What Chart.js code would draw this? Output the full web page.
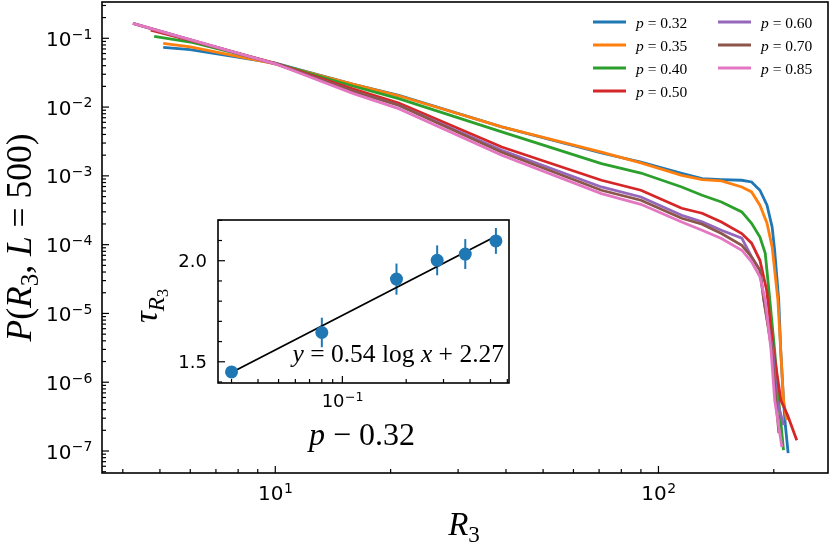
<!DOCTYPE html>
<html>
<head>
<meta charset="utf-8">
<title>P(R3, L=500)</title>
<script src="https://cdn.jsdelivr.net/npm/chart.js@4.4.1/dist/chart.umd.min.js"></script>
<style>
  body { margin: 0; background: #fff; }
  #wrap { position: relative; width: 830px; height: 549px; }
  #mainChart { position: absolute; left: 0; top: 0; }
  #insetChart { position: absolute; left: 140px; top: 210px; }
</style>
</head>
<body>
<div id="wrap">
  <canvas id="mainChart" width="830" height="549"></canvas>
  <canvas id="insetChart" width="380" height="250"></canvas>
</div>

<script>
  // p values and tab10 colours
  const pLabels = ['0.32', '0.35', '0.40', '0.50', '0.60', '0.70', '0.85'];
  const colors = ['#1f77b4', '#ff7f0e', '#2ca02c', '#d62728', '#9467bd', '#8c564b', '#e377c2'];

  // R3 and P(R3, L=500), one pair per p
  const r3_032 = [5.1, 6, 10, 16, 21, 39, 71, 90, 115, 130, 146, 165, 175, 184, 192, 198, 201, 206, 208.5, 212, 214, 218];
  const pr_032 = [0.074, 0.0686, 0.0434, 0.0214, 0.01485, 0.00514, 0.00215, 0.00159, 0.00109, 0.000914, 0.000883, 0.000863, 0.000815, 0.000618, 0.000374, 0.000181, 8.3e-5, 1.56e-5, 2.92e-6, 5.47e-7, 2.62e-7, 9.3e-8];

  const r3_035 = [5.1, 6, 10, 16, 21, 39, 71, 90, 115, 130, 146, 165, 175, 184, 192, 198, 205, 208.5, 212, 216];
  const pr_035 = [0.0846, 0.0748, 0.0426, 0.0214, 0.0146, 0.00514, 0.00222, 0.00154, 0.00102, 0.000883, 0.000843, 0.00069, 0.000584, 0.000374, 0.000205, 9.27e-5, 1.56e-5, 2.92e-6, 5.47e-7, 2.8e-7];

  const r3_040 = [4.83, 6, 10, 16, 21, 39, 71, 90, 115, 130, 146, 165, 175, 184, 190, 195, 201, 206, 212];
  const pr_040 = [0.107, 0.0883, 0.0434, 0.0201, 0.0133, 0.00435, 0.00151, 0.0011, 0.00069, 0.000523, 0.000418, 0.000299, 0.000205, 0.000129, 7.5e-5, 1.7e-5, 2.92e-6, 5.47e-7, 1.03e-7];

  const r3_050 = [4.73, 6, 10, 16, 21, 39, 71, 90, 115, 130, 146, 165, 175, 184, 191.6, 199.6, 208.7, 217.3, 229.6];
  const pr_050 = [0.131, 0.0935, 0.0434, 0.01832, 0.01148, 0.00263, 0.000863, 0.000618, 0.000338, 0.000286, 0.000214, 0.000145, 0.000105, 5.93e-5, 2.17e-5, 2.92e-6, 5.47e-7, 3.31e-7, 1.43e-7];

  const r3_060 = [4.25, 6, 10, 16, 21, 39, 71, 90, 115, 130, 146, 165, 175, 184, 188.4, 198.5, 203.7, 212.3];
  const pr_060 = [0.165, 0.095, 0.0426, 0.017, 0.01062, 0.002355, 0.00069, 0.000493, 0.000267, 0.000214, 0.000162, 0.000124, 6.62e-5, 4.25e-5, 1.56e-5, 2.92e-6, 5.47e-7, 2.37e-7];

  const r3_070 = [4.25, 6, 10, 16, 21, 39, 71, 90, 115, 130, 146, 165, 175, 184, 188.4, 197.6, 202.5, 206.2];
  const pr_070 = [0.165, 0.095, 0.0426, 0.017, 0.01062, 0.0022, 0.000618, 0.000442, 0.000242, 0.000198, 0.000145, 9.8e-5, 6.62e-5, 4.25e-5, 1.56e-5, 2.92e-6, 5.47e-7, 1.82e-7];

  const r3_085 = [4.25, 6, 10, 16, 21, 39, 71, 90, 115, 130, 146, 165, 175, 184, 190, 196.7, 201.1, 210];
  const pr_085 = [0.165, 0.0958, 0.0426, 0.0157, 0.0095, 0.00199, 0.000553, 0.000386, 0.000214, 0.000162, 0.000123, 8.3e-5, 5.61e-5, 3.4e-5, 1.56e-5, 2.92e-6, 5.47e-7, 1.14e-7];

  const seriesX = [r3_032, r3_035, r3_040, r3_050, r3_060, r3_070, r3_085];
  const seriesY = [pr_032, pr_035, pr_040, pr_050, pr_060, pr_070, pr_085];

  // inset: exponent tau_R3 against p - 0.32
  const pDiff = [0.03, 0.08, 0.18, 0.28, 0.38, 0.53];
  const tau = [1.45, 1.645, 1.909, 2.002, 2.033, 2.098];
  const tauErr = [0.02, 0.073, 0.077, 0.074, 0.074, 0.064];
  const fitX = [0.03, 0.53];
  const fitY = [1.447, 2.121];

  function isDecade(v) {
    const l = Math.log10(v);
    return Math.abs(l - Math.round(l)) < 1e-6;
  }
  const isHalf = v => Math.abs(v * 2 - Math.round(v * 2)) < 1e-6;

  // 1..9 x 10^n ticks inside the axis range
  function logTicks(scale) {
    const out = [];
    const e0 = Math.floor(Math.log10(scale.min)), e1 = Math.ceil(Math.log10(scale.max));
    for (let e = e0; e <= e1; e++) {
      for (let m = 1; m <= 9; m++) {
        const v = m * Math.pow(10, e);
        if (v >= scale.min && v <= scale.max) out.push({ value: v });
      }
    }
    scale.ticks = out;
  }

  // fixed axis thickness, no extra padding from label overhang
  function fixSize(prop, size) {
    return s => {
      s[prop] = size;
      s.paddingTop = 0; s.paddingBottom = 0; s.paddingLeft = 0; s.paddingRight = 0;
    };
  }

  // draw a little piece of math text: runs of [text, italic, subscript level]
  function drawMath(ctx, runs, x, y, size, align, angle) {
    ctx.save();
    ctx.translate(x, y);
    if (angle) ctx.rotate(angle);
    const items = runs.map(([t, it, lv]) => {
      lv = lv || 0;
      const fs = size * Math.pow(0.7, lv);
      const font = (it ? 'italic ' : '') + fs.toFixed(1) + 'px "Liberation Serif"';
      ctx.font = font;
      return { t, font, w: ctx.measureText(t).width, dy: lv === 0 ? 0 : (lv === 1 ? size * 0.2 : size * 0.33) };
    });
    const total = items.reduce((s, r) => s + r.w, 0);
    let cx = align === 'center' ? -total / 2 : (align === 'right' ? -total : 0);
    ctx.fillStyle = '#000';
    ctx.textAlign = 'left';
    ctx.textBaseline = 'alphabetic';
    items.forEach(r => { ctx.font = r.font; ctx.fillText(r.t, cx, r.dy); cx += r.w; });
    ctx.restore();
  }

  // "10" with a raised exponent, sans-serif like the tick labels
  function drawPow10(ctx, exp, x, y, size, align) {
    const base = size + 'px "DejaVu Sans"', small = (size * 0.7).toFixed(1) + 'px "DejaVu Sans"';
    const e = String(exp).replace('-', '\u2212');
    ctx.save();
    ctx.font = base; const w1 = ctx.measureText('10').width;
    ctx.font = small; const w2 = ctx.measureText(e).width;
    const x0 = align === 'center' ? x - (w1 + w2) / 2 : x - w1 - w2;
    ctx.fillStyle = '#000';
    ctx.textAlign = 'left';
    ctx.textBaseline = 'alphabetic';
    ctx.font = base; ctx.fillText('10', x0, y);
    ctx.font = small; ctx.fillText(e, x0 + w1 + 0.5, y - size * 0.36);
    ctx.restore();
  }

  // inward ticks on left/bottom, the box, and the tick labels
  function frameAndTicks(chart, xMajor, yMajor) {
    const { ctx, chartArea: a, scales } = chart;
    ctx.save();
    ctx.strokeStyle = '#000';
    ctx.lineWidth = 1.2;
    scales.x.ticks.forEach(t => {
      const px = scales.x.getPixelForValue(t.value);
      const len = xMajor(t.value) ? 7 : 4;
      ctx.beginPath(); ctx.moveTo(px, a.bottom); ctx.lineTo(px, a.bottom - len); ctx.stroke();
    });
    scales.y.ticks.forEach(t => {
      const py = scales.y.getPixelForValue(t.value);
      const len = yMajor(t.value) ? 7 : 4;
      ctx.beginPath(); ctx.moveTo(a.left, py); ctx.lineTo(a.left + len, py); ctx.stroke();
    });
    ctx.lineWidth = 1.6;
    ctx.strokeRect(a.left, a.top, a.right - a.left, a.bottom - a.top);
    ctx.restore();
  }

  const mainDecor = {
    id: 'mainDecor',
    afterDraw(chart) {
      frameAndTicks(chart, isDecade, isDecade);
      const { ctx, chartArea: a, scales } = chart;
      scales.x.ticks.filter(t => isDecade(t.value)).forEach(t => {
        drawPow10(ctx, Math.round(Math.log10(t.value)), scales.x.getPixelForValue(t.value), a.bottom + 27, 20, 'center');
      });
      scales.y.ticks.filter(t => isDecade(t.value)).forEach(t => {
        drawPow10(ctx, Math.round(Math.log10(t.value)), a.left - 10, scales.y.getPixelForValue(t.value) + 7.5, 20, 'right');
      });
      // legend, two columns, no frame
      const cols = [593, 718], rows = [22, 45, 68, 91];
      chart.data.datasets.forEach((ds, i) => {
        const c = i < 4 ? 0 : 1, r = i < 4 ? i : i - 4;
        const x = cols[c], y = rows[r];
        ctx.save();
        ctx.strokeStyle = ds.borderColor;
        ctx.lineWidth = 2.8;
        ctx.beginPath(); ctx.moveTo(x, y); ctx.lineTo(x + 33, y); ctx.stroke();
        ctx.restore();
        drawMath(ctx, [['p', true], [' = ' + pLabels[i], false]], x + 43, y + 5.5, 15.5, 'left');
      });
      // axis titles
      drawMath(ctx, [['R', true], ['3', false, 1]], 464, 535, 33, 'center');
      drawMath(ctx, [['P', true], ['(', false], ['R', true], ['3', false, 1], [', ', false], ['L', true],
                     [' = ', false], ['500', false], [')', false]], 31, 237.5, 35.5, 'center', -Math.PI / 2);
    }
  };

  const insetDecor = {
    id: 'insetDecor',
    beforeDraw(chart) {
      const { ctx, chartArea: a } = chart;
      ctx.save();
      ctx.fillStyle = '#fff';
      ctx.fillRect(a.left, a.top, a.right - a.left, a.bottom - a.top);
      ctx.restore();
    },
    beforeDatasetsDraw(chart) {
      const { ctx, scales } = chart;
      ctx.save();
      ctx.strokeStyle = '#1f77b4';
      ctx.lineWidth = 2;
      pDiff.forEach((v, i) => {
        const px = scales.x.getPixelForValue(v);
        ctx.beginPath();
        ctx.moveTo(px, scales.y.getPixelForValue(tau[i] - tauErr[i]));
        ctx.lineTo(px, scales.y.getPixelForValue(tau[i] + tauErr[i]));
        ctx.stroke();
      });
      ctx.restore();
    },
    afterDraw(chart) {
      frameAndTicks(chart, isDecade, isHalf);
      const { ctx, chartArea: a, scales } = chart;
      scales.x.ticks.filter(t => isDecade(t.value)).forEach(t => {
        drawPow10(ctx, Math.round(Math.log10(t.value)), scales.x.getPixelForValue(t.value), a.bottom + 24, 18, 'center');
      });
      ctx.save();
      ctx.font = '18px "DejaVu Sans"';
      ctx.fillStyle = '#000';
      ctx.textAlign = 'right';
      ctx.textBaseline = 'alphabetic';
      scales.y.ticks.filter(t => isHalf(t.value)).forEach(t => {
        ctx.fillText(t.value.toFixed(1), a.left - 11, scales.y.getPixelForValue(t.value) + 6.5);
      });
      ctx.restore();
      drawMath(ctx, [['y', true], [' = 0.54 ', false], ['log', false], [' ', false], ['x', true], [' + 2.27', false]],
               364, 152, 25.5, 'right');
      drawMath(ctx, [['p', true], [' \u2212 0.32', false]], 222, 235, 32, 'center');
      drawMath(ctx, [['\u03C4', true], ['R', true, 1], ['3', false, 2]], 17, 96, 33, 'center', -Math.PI / 2);
    }
  };

  const hiddenTicks = { display: false, autoSkip: false, maxRotation: 0 };

  new Chart(document.getElementById('mainChart'), {
    type: 'line',
    data: {
      datasets: seriesX.map((xs, i) => ({
        label: 'p = ' + pLabels[i],
        data: xs.map((x, j) => ({ x: x, y: seriesY[i][j] })),
        borderColor: colors[i],
        borderWidth: 2.8,
        pointRadius: 0,
        fill: false,
        tension: 0,
        order: seriesX.length - 1 - i
      }))
    },
    options: {
      responsive: false,
      animation: false,
      parsing: false,
      layout: { padding: { left: 2, top: 2, right: 2, bottom: 0 } },
      plugins: { legend: { display: false }, tooltip: { enabled: false } },
      scales: {
        x: {
          type: 'logarithmic', min: 3.53, max: 277,
          grid: { display: false, drawTicks: false }, border: { display: false },
          afterBuildTicks: logTicks,
          afterFit: fixSize('height', 76),
          ticks: hiddenTicks
        },
        y: {
          type: 'logarithmic', min: 4.79e-8, max: 0.337,
          grid: { display: false, drawTicks: false }, border: { display: false },
          afterBuildTicks: logTicks,
          afterFit: fixSize('width', 100),
          ticks: hiddenTicks
        }
      }
    },
    plugins: [mainDecor]
  });

  new Chart(document.getElementById('insetChart'), {
    type: 'scatter',
    data: {
      datasets: [
        {
          data: pDiff.map((x, i) => ({ x: x, y: tau[i] })),
          backgroundColor: '#1f77b4',
          borderWidth: 0,
          pointRadius: 6.5,
          order: 0
        },
        {
          type: 'line',
          data: fitX.map((x, i) => ({ x: x, y: fitY[i] })),
          borderColor: '#000',
          borderWidth: 1.8,
          pointRadius: 0,
          fill: false,
          order: 1
        }
      ]
    },
    options: {
      responsive: false,
      animation: false,
      layout: { padding: { left: 0, top: 10, right: 11, bottom: 0 } },
      plugins: { legend: { display: false }, tooltip: { enabled: false } },
      scales: {
        x: {
          type: 'logarithmic', min: 0.0259, max: 0.611,
          grid: { display: false, drawTicks: false }, border: { display: false },
          afterBuildTicks: logTicks,
          afterFit: fixSize('height', 77),
          ticks: hiddenTicks
        },
        y: {
          type: 'linear', min: 1.395, max: 2.2015,
          grid: { display: false, drawTicks: false }, border: { display: false },
          afterBuildTicks: s => {
            const out = [];
            for (let k = 14; k <= 22; k++) out.push({ value: k / 10 });
            s.ticks = out;
          },
          afterFit: fixSize('width', 78),
          ticks: hiddenTicks
        }
      }
    },
    plugins: [insetDecor]
  });
</script>
</body>
</html>
